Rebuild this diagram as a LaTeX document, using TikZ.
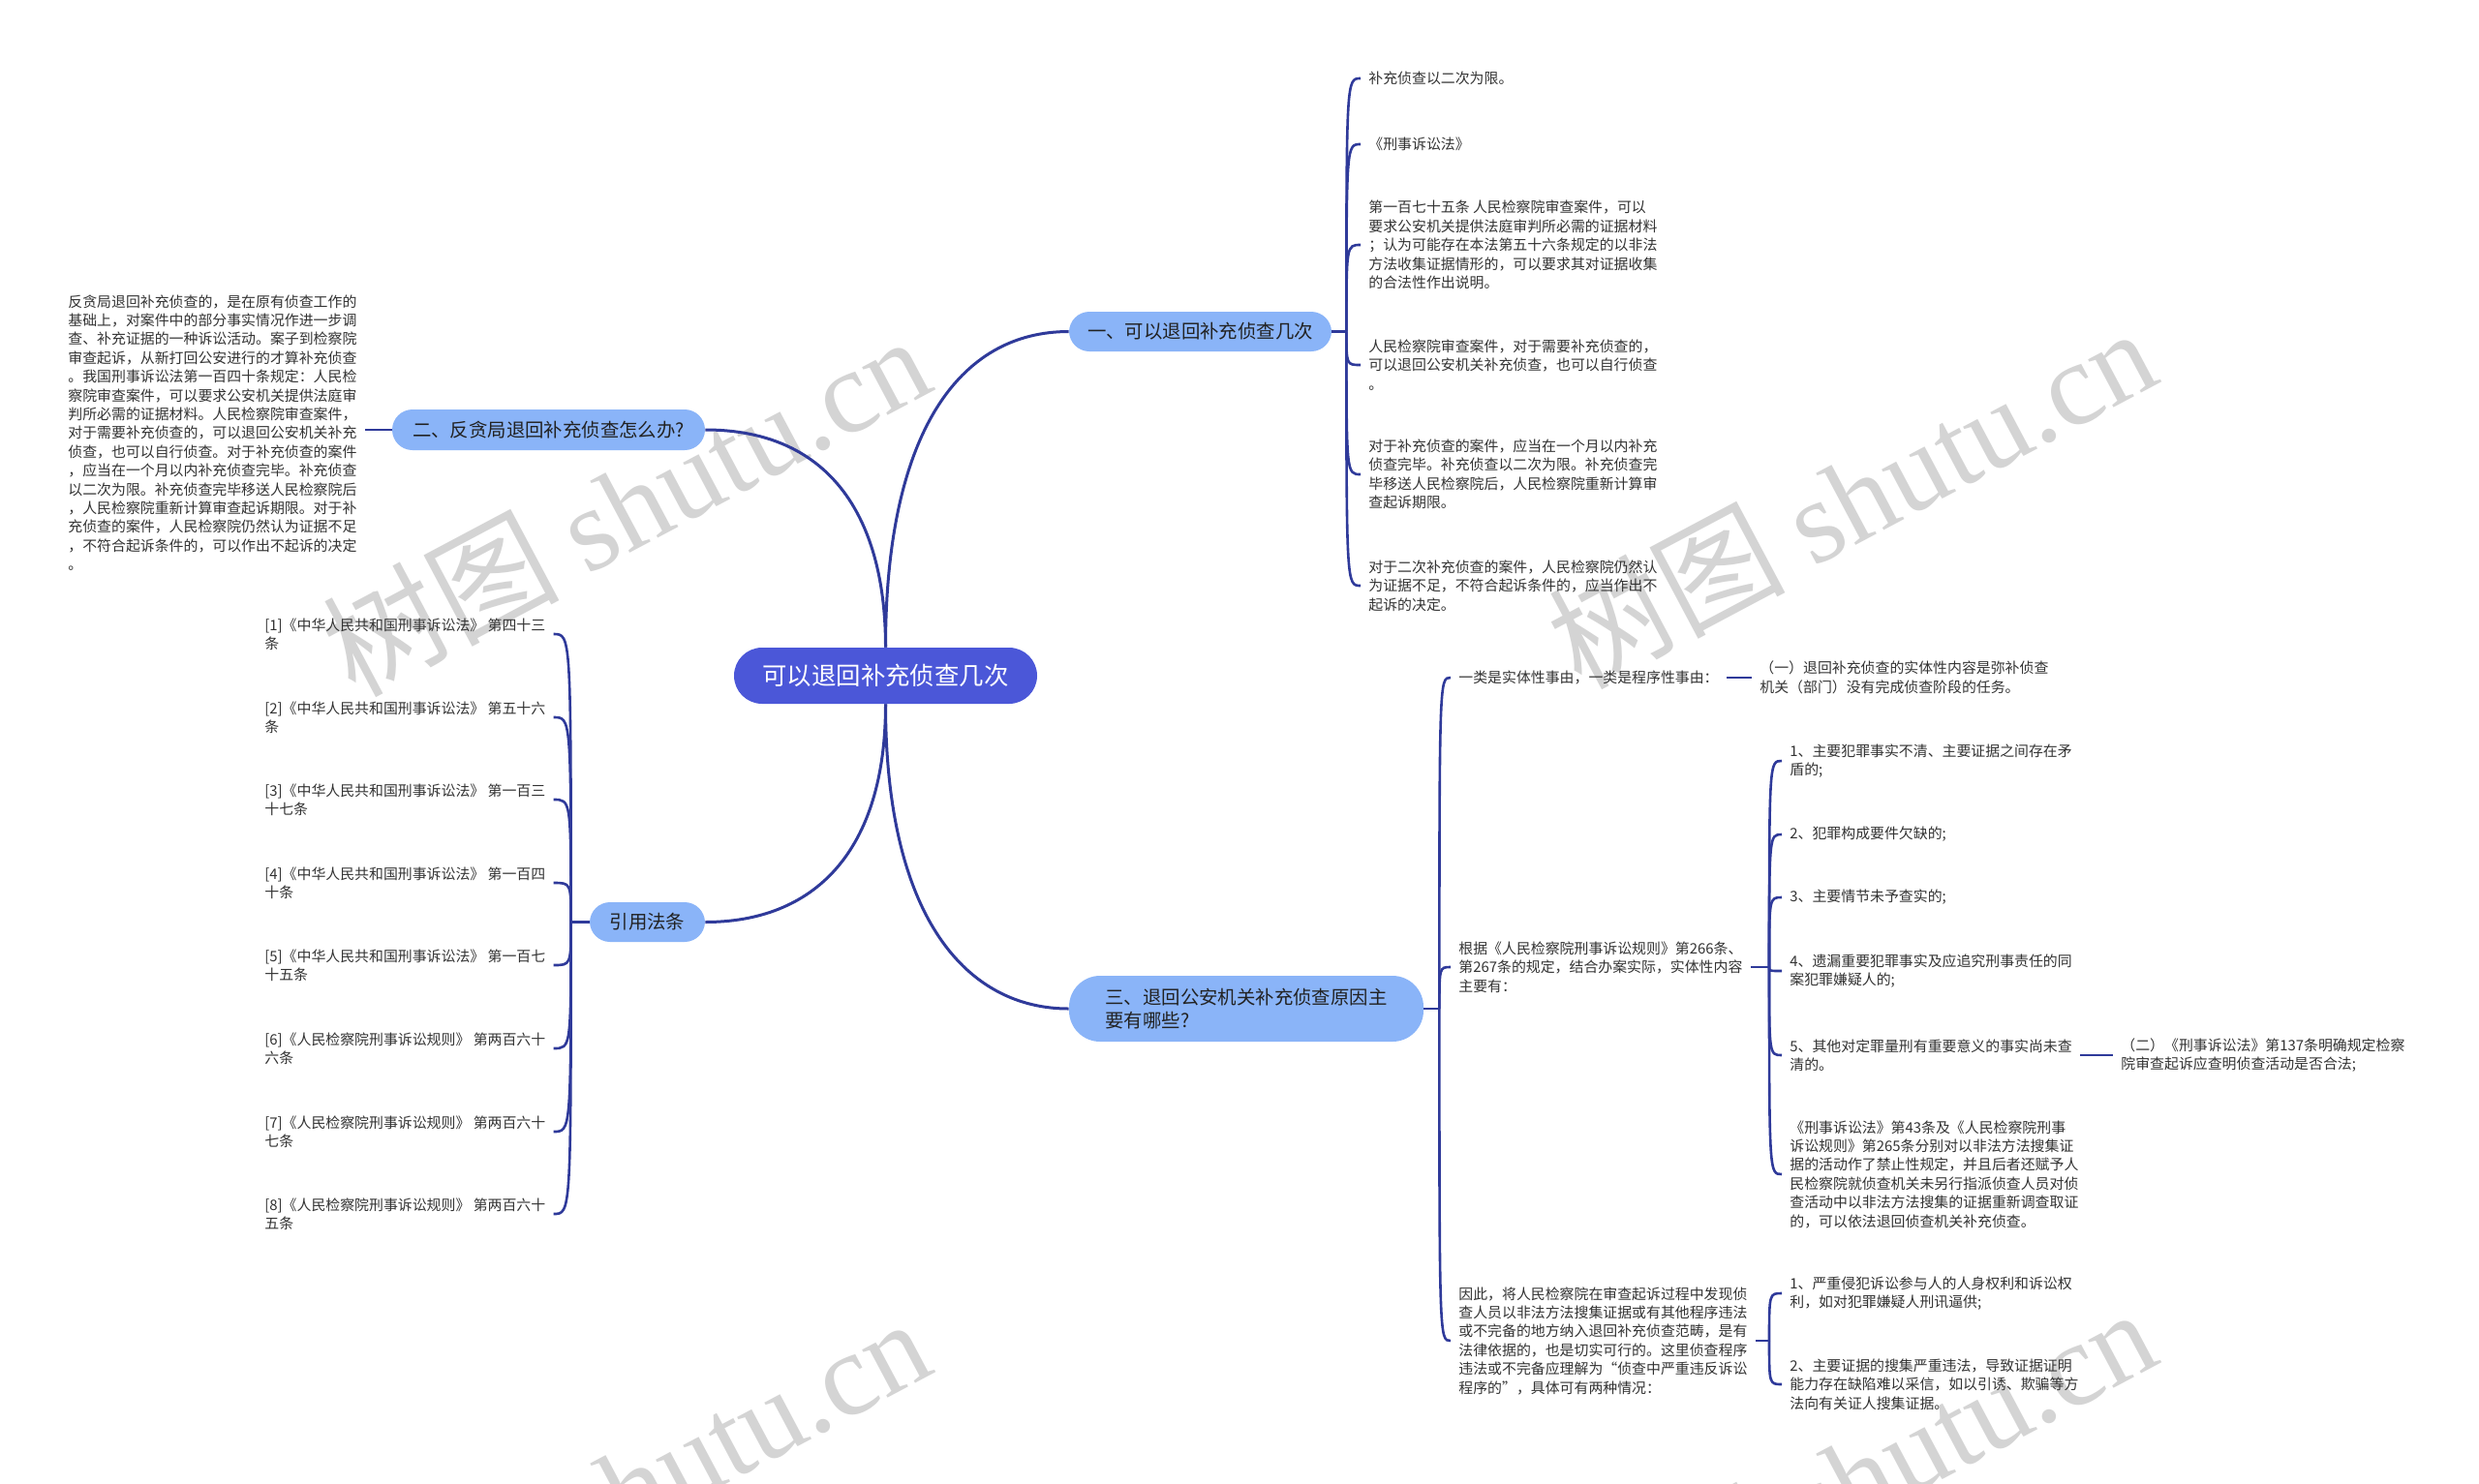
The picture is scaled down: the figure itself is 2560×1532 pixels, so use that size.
\documentclass[tikz,border=0pt]{standalone}
\usepackage{fontspec}
\setmainfont{Noto Sans CJK SC}
\newfontfamily\shutuLatinMark{Liberation Serif}
\usetikzlibrary{calc}
\definecolor{ShutuNavy}{HTML}{2F3A9A}
\definecolor{ShutuRoot}{HTML}{4B57D8}
\definecolor{ShutuTopic}{HTML}{8AB4F8}
\definecolor{ShutuInk}{HTML}{333333}
\definecolor{ShutuDark}{HTML}{222222}
\definecolor{ShutuMark}{HTML}{D4D4D4}

\begin{document}
\begin{tikzpicture}[x=0.5pt,y=-0.5pt,
    link/.style={ShutuNavy,line width=1.5pt},
    hook/.style={ShutuNavy,line width=1.3pt},
    leaf text/.style={anchor=west,text=ShutuInk,align=left,
      inner xsep=4pt,inner ysep=1pt,
      font=\fontsize{7.45}{9.7}\selectfont},
    topic box/.style={fill=ShutuTopic,text=ShutuDark,align=left,
      inner sep=0pt,rounded corners=10.5pt,minimum height=20.5pt,
      font=\fontsize{9.7}{12.3}\selectfont},
    shutu stamp/.style={text=ShutuMark,rotate=28,inner sep=0pt,
      font=\fontsize{61}{61}\selectfont}]

        \fill[white] (0,0) rectangle (2560,1532);
        \useasboundingbox (0,0) rectangle (2560,1532);

        \node[shutu stamp] (stamp1) at (646,521)
          {树图 {\shutuLatinMark shutu.cn}};
        \node[shutu stamp] (stamp2) at (1912,513)
          {树图 {\shutuLatinMark shutu.cn}};
        \node[shutu stamp] (stamp3) at (646,1536)
          {树图 {\shutuLatinMark shutu.cn}};
        \node[shutu stamp] (stamp4) at (1912,1526)
          {树图 {\shutuLatinMark shutu.cn}};

        \node[fill=ShutuRoot,text=white,inner sep=0pt,
          rounded corners=14.5pt,minimum width=156.5pt,minimum height=29pt,
          font=\fontsize{12.7}{15}\selectfont]
          (root) at (914.5,698) {可以退回补充侦查几次};

        \node[topic box,minimum width=135.5pt]
          (sec1) at (1239.5,342.5) {一、可以退回补充侦查几次};
        \node[topic box,minimum width=161.5pt,minimum height=21pt]
          (sec2) at (566.5,444) {二、反贪局退回补充侦查怎么办?};
        \node[topic box,minimum width=59.5pt]
          (cite) at (668.5,952.5) {引用法条};
        \node[topic box,minimum width=183pt,minimum height=34pt,
          rounded corners=16pt]
          (sec3) at (1287,1042) {三、退回公安机关补充侦查原因主\\要有哪些?};

        \draw[link] (root.north) .. controls +(0,-220) and +(-114,0) .. (sec1.west);
        \draw[link] (root.north) .. controls +(0,-130) and +(132,0) .. (sec2.east);
        \draw[link] (root.south) .. controls +(0,153) and +(112,0) .. (cite.east);
        \draw[link] (root.south) .. controls +(0,223) and +(-104,0) .. (sec3.west);

        \node[leaf text] (sec1a) at (1405,81) {补充侦查以二次为限。};
        \node[leaf text] (sec1b) at (1405,149) {《刑事诉讼法》};
        \node[leaf text] (sec1c) at (1405,253) {第一百七十五条 人民检察院审查案件，可以\\要求公安机关提供法庭审判所必需的证据材料\\；认为可能存在本法第五十六条规定的以非法\\方法收集证据情形的，可以要求其对证据收集\\的合法性作出说明。};
        \node[leaf text] (sec1d) at (1405,377) {人民检察院审查案件，对于需要补充侦查的，\\可以退回公安机关补充侦查，也可以自行侦查\\。};
        \node[leaf text] (sec1e) at (1405,490) {对于补充侦查的案件，应当在一个月以内补充\\侦查完毕。补充侦查以二次为限。补充侦查完\\毕移送人民检察院后，人民检察院重新计算审\\查起诉期限。};
        \node[leaf text] (sec1f) at (1405,605) {对于二次补充侦查的案件，人民检察院仍然认\\为证据不足，不符合起诉条件的，应当作出不\\起诉的决定。};

        \draw[hook] (sec1.east) -- ++(15,0) coordinate (sec1hub);
        \draw[hook] (sec1hub) .. controls (sec1hub |- sec1a.west) .. (sec1a.west);
        \draw[hook] (sec1hub) .. controls (sec1hub |- sec1b.west) .. (sec1b.west);
        \draw[hook] (sec1hub) .. controls (sec1hub |- sec1c.west) .. (sec1c.west);
        \draw[hook] (sec1hub) .. controls (sec1hub |- sec1d.west) .. (sec1d.west);
        \draw[hook] (sec1hub) .. controls (sec1hub |- sec1e.west) .. (sec1e.west);
        \draw[hook] (sec1hub) .. controls (sec1hub |- sec1f.west) .. (sec1f.west);

        \node[leaf text] (sec2a) at (62,447) {反贪局退回补充侦查的，是在原有侦查工作的\\基础上，对案件中的部分事实情况作进一步调\\查、补充证据的一种诉讼活动。案子到检察院\\审查起诉，从新打回公安进行的才算补充侦查\\。我国刑事诉讼法第一百四十条规定：人民检\\察院审查案件，可以要求公安机关提供法庭审\\判所必需的证据材料。人民检察院审查案件，\\对于需要补充侦查的，可以退回公安机关补充\\侦查，也可以自行侦查。对于补充侦查的案件\\，应当在一个月以内补充侦查完毕。补充侦查\\以二次为限。补充侦查完毕移送人民检察院后\\，人民检察院重新计算审查起诉期限。对于补\\充侦查的案件，人民检察院仍然认为证据不足\\，不符合起诉条件的，可以作出不起诉的决定\\。};

        \draw[hook] (sec2.west) -- (sec2.west -| sec2a.east);

        \node[leaf text] (cite1) at (265,655) {[1]《中华人民共和国刑事诉讼法》 第四十三\\条};
        \node[leaf text] (cite2) at (265,741) {[2]《中华人民共和国刑事诉讼法》 第五十六\\条};
        \node[leaf text] (cite3) at (265,826) {[3]《中华人民共和国刑事诉讼法》 第一百三\\十七条};
        \node[leaf text] (cite4) at (265,912) {[4]《中华人民共和国刑事诉讼法》 第一百四\\十条};
        \node[leaf text] (cite5) at (265,997) {[5]《中华人民共和国刑事诉讼法》 第一百七\\十五条};
        \node[leaf text] (cite6) at (265,1083) {[6]《人民检察院刑事诉讼规则》 第两百六十\\六条};
        \node[leaf text] (cite7) at (265,1169) {[7]《人民检察院刑事诉讼规则》 第两百六十\\七条};
        \node[leaf text] (cite8) at (265,1254) {[8]《人民检察院刑事诉讼规则》 第两百六十\\五条};

        \draw[hook] (cite.west) -- ++(-19,0) coordinate (citehub);
        \draw[hook] (citehub) .. controls (citehub |- cite1.east) .. (cite1.east);
        \draw[hook] (citehub) .. controls (citehub |- cite2.east) .. (cite2.east);
        \draw[hook] (citehub) .. controls (citehub |- cite3.east) .. (cite3.east);
        \draw[hook] (citehub) .. controls (citehub |- cite4.east) .. (cite4.east);
        \draw[hook] (citehub) .. controls (citehub |- cite5.east) .. (cite5.east);
        \draw[hook] (citehub) .. controls (citehub |- cite6.east) .. (cite6.east);
        \draw[hook] (citehub) .. controls (citehub |- cite7.east) .. (cite7.east);
        \draw[hook] (citehub) .. controls (citehub |- cite8.east) .. (cite8.east);

        \node[leaf text] (sec3a) at (1498,700) {一类是实体性事由，一类是程序性事由：};
        \node[leaf text] (sec3a1) at (1809,700) {（一）退回补充侦查的实体性内容是弥补侦查\\机关（部门）没有完成侦查阶段的任务。};
        \node[leaf text] (sec3b) at (1498,999) {根据《人民检察院刑事诉讼规则》第266条、\\第267条的规定，结合办案实际，实体性内容\\主要有：};
        \node[leaf text] (sec3c) at (1498,1385) {因此，将人民检察院在审查起诉过程中发现侦\\查人员以非法方法搜集证据或有其他程序违法\\或不完备的地方纳入退回补充侦查范畴，是有\\法律依据的，也是切实可行的。这里侦查程序\\违法或不完备应理解为“侦查中严重违反诉讼\\程序的”，具体可有两种情况：};

        \draw[hook] (sec3.east) -- ++(16,0) coordinate (sec3hub);
        \draw[hook] (sec3hub) .. controls (sec3hub |- sec3a.west) .. (sec3a.west);
        \draw[hook] (sec3hub) .. controls (sec3hub |- sec3b.west) .. (sec3b.west);
        \draw[hook] (sec3hub) .. controls (sec3hub |- sec3c.west) .. (sec3c.west);
        \draw[hook] (sec3a.east) -- (sec3a.east -| sec3a1.west);

        \node[leaf text] (sec3b1) at (1840,786) {1、主要犯罪事实不清、主要证据之间存在矛\\盾的;};
        \node[leaf text] (sec3b2) at (1840,862) {2、犯罪构成要件欠缺的;};
        \node[leaf text] (sec3b3) at (1840,927) {3、主要情节未予查实的;};
        \node[leaf text] (sec3b4) at (1840,1003) {4、遗漏重要犯罪事实及应追究刑事责任的同\\案犯罪嫌疑人的;};
        \node[leaf text] (sec3b5) at (1840,1090) {5、其他对定罪量刑有重要意义的事实尚未查\\清的。};
        \node[leaf text] (sec3b5x) at (2182,1090) {（二）《刑事诉讼法》第137条明确规定检察\\院审查起诉应查明侦查活动是否合法;};
        \node[leaf text] (sec3b6) at (1840,1213) {《刑事诉讼法》第43条及《人民检察院刑事\\诉讼规则》第265条分别对以非法方法搜集证\\据的活动作了禁止性规定，并且后者还赋予人\\民检察院就侦查机关未另行指派侦查人员对侦\\查活动中以非法方法搜集的证据重新调查取证\\的，可以依法退回侦查机关补充侦查。};

        \coordinate (sec3bhub) at (1827,999);
        \draw[hook] (sec3b.east) -- (sec3bhub);
        \draw[hook] (sec3bhub) .. controls (sec3bhub |- sec3b1.west) .. (sec3b1.west);
        \draw[hook] (sec3bhub) .. controls (sec3bhub |- sec3b2.west) .. (sec3b2.west);
        \draw[hook] (sec3bhub) .. controls (sec3bhub |- sec3b3.west) .. (sec3b3.west);
        \draw[hook] (sec3bhub) .. controls (sec3bhub |- sec3b4.west) .. (sec3b4.west);
        \draw[hook] (sec3bhub) .. controls (sec3bhub |- sec3b5.west) .. (sec3b5.west);
        \draw[hook] (sec3bhub) .. controls (sec3bhub |- sec3b6.west) .. (sec3b6.west);
        \draw[hook] (sec3b5.east) -- (sec3b5.east -| sec3b5x.west);

        \node[leaf text] (sec3c1) at (1840,1336) {1、严重侵犯诉讼参与人的人身权利和诉讼权\\利，如对犯罪嫌疑人刑讯逼供;};
        \node[leaf text] (sec3c2) at (1840,1430) {2、主要证据的搜集严重违法，导致证据证明\\能力存在缺陷难以采信，如以引诱、欺骗等方\\法向有关证人搜集证据。};

        \coordinate (sec3chub) at (1827,1385);
        \draw[hook] (sec3c.east) -- (sec3chub);
        \draw[hook] (sec3chub) .. controls (sec3chub |- sec3c1.west) .. (sec3c1.west);
        \draw[hook] (sec3chub) .. controls (sec3chub |- sec3c2.west) .. (sec3c2.west);

      \end{tikzpicture}
\end{document}
